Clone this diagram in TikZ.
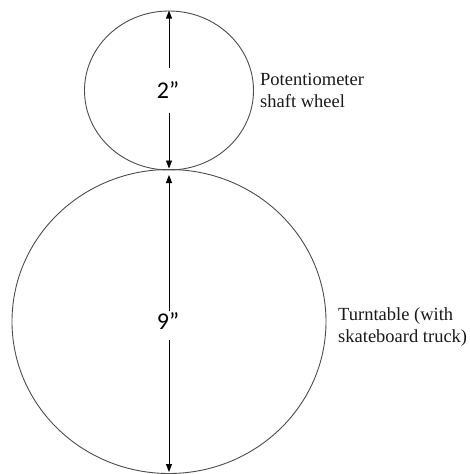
\documentclass[tikz,border=0pt]{standalone}
\usepackage{fontspec}
\setmainfont{Liberation Serif}
\newfontfamily\dimfont{Carlito}
\usetikzlibrary{shapes.geometric,arrows.meta}
\begin{document}
\begin{tikzpicture}[x=1pt,y=-1pt,
  wheel/.style={draw=black!70, line width=0.9pt, ellipse, inner sep=0pt},
  dimlabel/.style={font=\dimfont\fontsize{24}{28}\selectfont, inner sep=0pt},
  dimarrow/.style={draw=black, line width=0.8pt, -{Triangle[length=8pt,width=6pt]}},
  note/.style={font=\fontsize{18.5}{22}\selectfont, align=left, inner sep=0pt, text=black!90}]
\useasboundingbox (0,0) rectangle (469,474);
\node[wheel, minimum width=169pt, minimum height=159pt] (pot) at (169,90.5) {};
\node[wheel, minimum width=314pt, minimum height=304pt] (turn) at (169,321.5) {};
\node[dimlabel] (d2) at (168,90) {2”};
\node[dimlabel] (d9) at (168,321) {9”};
\coordinate (d2t) at (169,68);
\coordinate (d2b) at (169,113);
\coordinate (d9t) at (169,311);
\coordinate (d9b) at (169,340);
\coordinate (potbot) at (169,168.5);
\coordinate (turntop) at (169,175);
\coordinate (turnbot) at (169,472);
\draw[dimarrow] (d2t) -- (pot.north);
\draw[dimarrow] (d2b) -- (potbot);
\draw[dimarrow] (d9t) -- (turntop);
\draw[dimarrow] (d9b) -- (turnbot);
\node[note, anchor=base west] (potlabel) at (260,107) {Potentiometer\\shaft wheel};
\node[note, anchor=base west] (turnlabel) at (338,342) {Turntable (with\\skateboard truck)};
\end{tikzpicture}
\end{document}
